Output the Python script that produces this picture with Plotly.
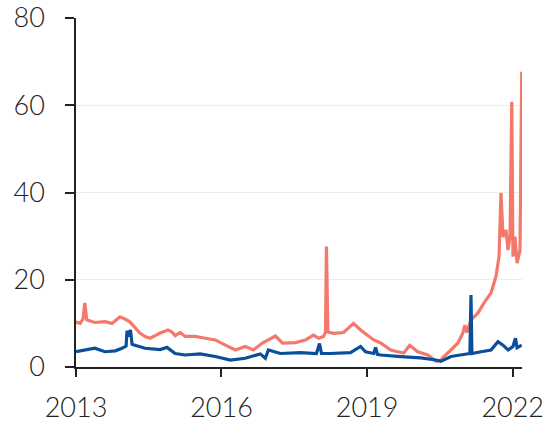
import plotly.graph_objects as go

red_dates = ["2013-01-01","2013-02-01","2013-02-23","2013-03-08","2013-03-23","2013-05-22","2013-08-07","2013-09-29",
             "2013-11-28","2014-01-05","2014-02-12","2014-03-20","2014-04-27","2014-06-05","2014-07-13","2014-08-20",
             "2014-09-26","2014-11-25","2014-12-25","2015-01-17","2015-02-24","2015-04-02","2015-06-17","2015-09-01",
             "2015-11-15","2016-01-30","2016-04-15","2016-06-28","2016-08-28","2016-11-04","2016-12-19","2017-02-10",
             "2017-04-04","2017-07-10","2017-09-24","2017-11-23","2018-01-01","2018-02-07","2018-02-22","2018-03-01",
             "2018-03-12","2018-04-23","2018-07-08","2018-09-21","2018-11-13","2019-01-05","2019-02-20","2019-04-13",
             "2019-06-28","2019-08-20","2019-10-04","2019-11-18","2020-01-17","2020-04-02","2020-06-02","2020-07-09",
             "2020-08-01","2020-09-23","2020-11-15","2020-12-22","2021-01-06","2021-01-21","2021-02-21","2021-04-15",
             "2021-05-30","2021-07-22","2021-08-28","2021-09-20","2021-10-05","2021-10-20","2021-11-12","2021-11-27",
             "2021-12-12","2021-12-25","2022-01-03","2022-01-18","2022-02-03","2022-02-25","2022-03-10"]
red_values = [10.3,10.0,11.0,14.7,10.8,10.2,10.4,10.0,
              11.5,11.0,10.3,9.2,7.8,7.0,6.6,7.2,
              7.8,8.5,8.0,7.2,7.9,7.0,7.0,6.6,
              6.2,5.0,3.9,4.7,3.9,5.5,6.2,7.1,
              5.5,5.6,6.2,7.3,6.6,7.0,8.0,27.6,
              8.0,7.7,7.9,10.0,8.5,7.3,6.2,5.5,
              3.9,3.5,3.2,5.0,3.5,2.75,1.3,1.6,
              2.4,3.9,5.5,7.8,9.6,7.9,10.8,12.4,
              14.7,17.0,20.7,25.3,39.9,29.8,31.4,26.8,
              29.9,60.8,25.3,29.9,23.8,26.8,67.7]

blue_dates = ["2013-01-01","2013-03-08","2013-05-22","2013-08-07","2013-10-24","2013-12-13","2014-01-13","2014-01-20",
              "2014-02-04","2014-02-15","2014-02-27","2014-03-20","2014-06-05","2014-09-26","2014-11-17","2015-01-17",
              "2015-04-02","2015-07-24","2015-11-15","2016-03-08","2016-06-28","2016-10-19","2016-11-26","2016-12-19",
              "2017-03-19","2017-08-17","2017-12-16","2018-01-08","2018-01-23","2018-03-31","2018-08-29","2018-11-13",
              "2018-12-20","2019-02-20","2019-03-06","2019-03-20","2019-04-13","2019-09-11","2020-02-08","2020-06-02",
              "2020-07-09","2020-09-23","2020-12-07","2021-02-13","2021-02-21","2021-02-28","2021-05-07","2021-07-22",
              "2021-09-12","2021-10-20","2021-11-27","2022-01-03","2022-01-22","2022-02-03","2022-03-10"]
blue_values = [3.5,3.9,4.3,3.5,3.7,4.3,4.8,8.3,
               7.0,8.5,5.2,5.0,4.3,4.0,4.5,3.1,
               2.75,3.0,2.4,1.6,2.0,3.0,2.0,3.9,
               3.1,3.3,3.1,5.4,3.1,3.1,3.3,4.7,
               3.5,3.1,4.5,2.9,2.75,2.4,2.1,1.6,
               1.3,2.4,2.75,3.1,16.5,3.1,3.5,3.9,
               5.8,5.0,3.9,4.7,6.6,4.4,5.0]

x_tick_vals = ["2013-01-01", "2016-01-01", "2019-01-01", "2022-01-01"]
x_tick_text = ["2013", "2016", "2019", "2022"]
y_tick_vals = [0, 20, 40, 60, 80]

fig = go.Figure()
fig.add_trace(go.Scatter(x=red_dates, y=red_values, mode="lines",
                         line=dict(color="#f4786b", width=3.2), showlegend=False))
fig.add_trace(go.Scatter(x=blue_dates, y=blue_values, mode="lines",
                         line=dict(color="#0b4f9c", width=3.2), showlegend=False))

font_family = "Lato, 'Open Sans', sans-serif"
fig.update_layout(
    width=546, height=422,
    margin=dict(l=76, r=24, t=18, b=55),
    paper_bgcolor="white", plot_bgcolor="white",
    font=dict(family=font_family, size=27, color="#222222", weight=300),
    xaxis=dict(
        type="date", range=["2013-01-01", "2022-03-12"],
        tickvals=x_tick_vals, ticktext=x_tick_text,
        showgrid=False, zeroline=False, automargin=False,
        showline=True, linecolor="#222222", linewidth=1.5,
        ticks="outside", ticklen=8, tickwidth=1.5, tickcolor="#222222",
        ticklabelstandoff=8,
    ),
    yaxis=dict(
        range=[0, 80], tickvals=y_tick_vals,
        showgrid=True, gridcolor="#f0ede4", gridwidth=1,
        zeroline=False, automargin=False,
        showline=True, linecolor="#222222", linewidth=1.5,
        ticks="outside", ticklen=9, tickwidth=1.5, tickcolor="#222222",
        ticklabelstandoff=15,
    ),
)

fig.write_html("out.html",
               config={"displayModeBar": False},
               post_script="document.body.style.margin='0';document.body.style.padding='0';")
